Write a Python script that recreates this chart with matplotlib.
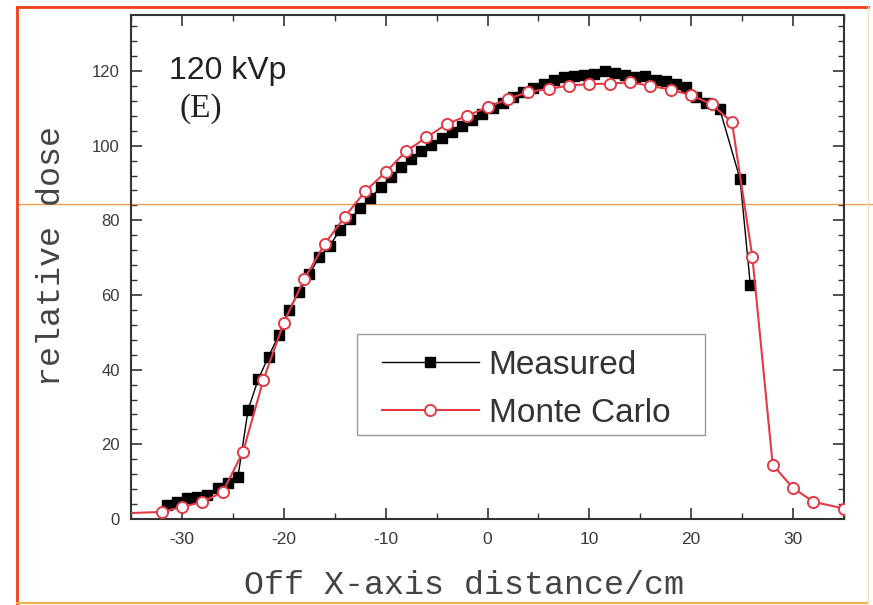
import matplotlib
matplotlib.use('Agg')
import matplotlib.pyplot as plt
import matplotlib.transforms as mtransforms
from matplotlib.lines import Line2D
from matplotlib.patches import Rectangle
from matplotlib.ticker import MultipleLocator, AutoMinorLocator

plt.rcParams['axes.unicode_minus'] = False

# measured profile (black squares), ~1 cm steps
meas_x = [-31.5, -30.5, -29.5, -28.5, -27.5, -26.5, -25.5, -24.5, -23.5, -22.5,
          -21.5, -20.5, -19.5, -18.5, -17.5, -16.5, -15.5, -14.5, -13.5, -12.5,
          -11.5, -10.5, -9.5, -8.5, -7.5, -6.5, -5.5, -4.5, -3.5, -2.5,
          -1.5, -0.5, 0.5, 1.5, 2.5, 3.5, 4.5, 5.5, 6.5, 7.5,
          8.5, 9.5, 10.5, 11.5, 12.5, 13.5, 14.5, 15.5, 16.5, 17.5,
          18.5, 19.5, 20.5, 21.5, 22.8, 24.8, 25.8]
meas_y = [3.8, 4.5, 5.6, 5.8, 6.4, 8.3, 9.7, 11.3, 29.3, 37.5,
          43.5, 49.2, 56.1, 60.7, 65.5, 70.3, 73.2, 77.3, 80.3, 83.2,
          86.0, 88.8, 91.5, 94.2, 96.4, 98.5, 100.2, 102.0, 103.6, 105.2,
          106.8, 108.5, 110.0, 111.5, 113.0, 114.3, 115.5, 116.5, 117.5, 118.3,
          118.6, 118.8, 119.2, 120.0, 119.4, 118.9, 118.5, 118.7, 117.7, 117.2,
          116.5, 115.8, 113.0, 111.5, 109.8, 91.0, 62.8]

# Monte Carlo profile (open red circles), 2 cm steps
mc_x = [-36, -32, -30, -28, -26, -24, -22, -20, -18, -16, -14, -12, -10, -8, -6,
        -4, -2, 0, 2, 4, 6, 8, 10, 12, 14, 16, 18, 20, 22, 24, 26, 28, 30, 32, 35]
mc_y = [1.5, 1.9, 3.2, 4.6, 7.2, 18.0, 37.3, 52.6, 64.2, 73.6, 81.0, 87.8, 92.9, 98.5, 102.2,
        105.8, 108.0, 110.3, 112.5, 114.4, 115.2, 116.1, 116.5, 116.6, 117.0, 116.0, 115.0, 113.5, 111.1,
        106.3, 70.3, 14.5, 8.3, 4.6, 2.8]

xticks = [-30, -20, -10, 0, 10, 20, 30]
yticks = [0, 20, 40, 60, 80, 100, 120]

red = '#e23a46'
grey_txt = '#3a3a3a'

fig = plt.figure(figsize=(8.73, 6.05), dpi=100)
ax = fig.add_axes([131/873, 1 - 519/605, 713/873, 504/605])

ax.plot(meas_x, meas_y, color='black', linewidth=1.0, marker='s', markersize=6.5,
        markerfacecolor='black', markeredgecolor='black', label='Measured', zorder=3)
ax.plot(mc_x, mc_y, color=red, linewidth=1.5, marker='o', markersize=8,
        markerfacecolor='white', markeredgecolor=red, markeredgewidth=1.4,
        label='Monte Carlo', zorder=4)

ax.set_xlim(-35, 35)
ax.set_ylim(0, 135)
ax.set_xticks(xticks)
ax.set_yticks(yticks)
ax.xaxis.set_minor_locator(MultipleLocator(5))
ax.yaxis.set_minor_locator(AutoMinorLocator(5))
ax.tick_params(which='both', direction='in', top=True, right=True, colors='#333333')
ax.tick_params(which='major', length=8, width=1.2)
ax.tick_params(which='minor', length=4, width=1.0)
ax.tick_params(axis='x', pad=9, labelsize=12.5, labelcolor=grey_txt)
ax.tick_params(axis='y', pad=8, labelsize=12, labelcolor=grey_txt)
for lab in ax.get_xticklabels() + ax.get_yticklabels():
    lab.set_family('Liberation Sans')
for sp in ax.spines.values():
    sp.set_color('#333333')
    sp.set_linewidth(1.5)

ax.text(-25.5, 117.9, '120 kVp', family='Liberation Sans', fontsize=23,
        ha='center', va='baseline', color='#222222')
ax.text(-28.1, 110.0, '(E)', family='Liberation Serif', fontsize=24,
        ha='center', va='center', color='#222222')

fig.text(464/873, 1 - 585/605, 'Off X-axis distance/cm', family='Liberation Mono',
         fontsize=24, ha='center', va='center', color='#444444')
fig.text(52/873, 1 - 256/605, 'relative dose', family='Liberation Mono',
         fontsize=24, ha='center', va='center', rotation=90, color='#444444')

# legend entries without frame; frame drawn separately
leg = ax.legend(loc='upper left', bbox_to_anchor=(382/873, 1 - 350/605),
                bbox_transform=fig.transFigure, prop={'family': 'Liberation Sans', 'size': 24},
                frameon=False, handlelength=2.9, handletextpad=0.3,
                labelspacing=0.5, borderpad=0, borderaxespad=0)
for t in leg.get_texts():
    t.set_color('#333333')
fig.add_artist(Rectangle((357/873, 1 - 435/605), 348/873, 101/605, transform=fig.transFigure,
                         facecolor='none', edgecolor='#999999', linewidth=1.0))

# orange guide line across the figure
trans = mtransforms.blended_transform_factory(fig.transFigure, ax.transData)
ax.plot([17/873, 1.0], [84.5, 84.5], color='#f0a050', linewidth=1.0,
        transform=trans, clip_on=False, zorder=2.5)

# page frame
fig.add_artist(Line2D([17/873, 17/873], [0.002, 1 - 7/605], transform=fig.transFigure,
                      color='#f04018', linewidth=2))
fig.add_artist(Line2D([17/873, 868/873], [1 - 7/605, 1 - 7/605], transform=fig.transFigure,
                      color='#f04018', linewidth=2))
fig.add_artist(Line2D([17/873, 868/873], [0.003, 0.003], transform=fig.transFigure,
                      color='#f0b050', linewidth=1.5))
fig.add_artist(Line2D([868/873, 868/873], [0.003, 1 - 7/605], transform=fig.transFigure,
                      color='#f8dcc0', linewidth=1))

fig.savefig('out.png', dpi=100)
